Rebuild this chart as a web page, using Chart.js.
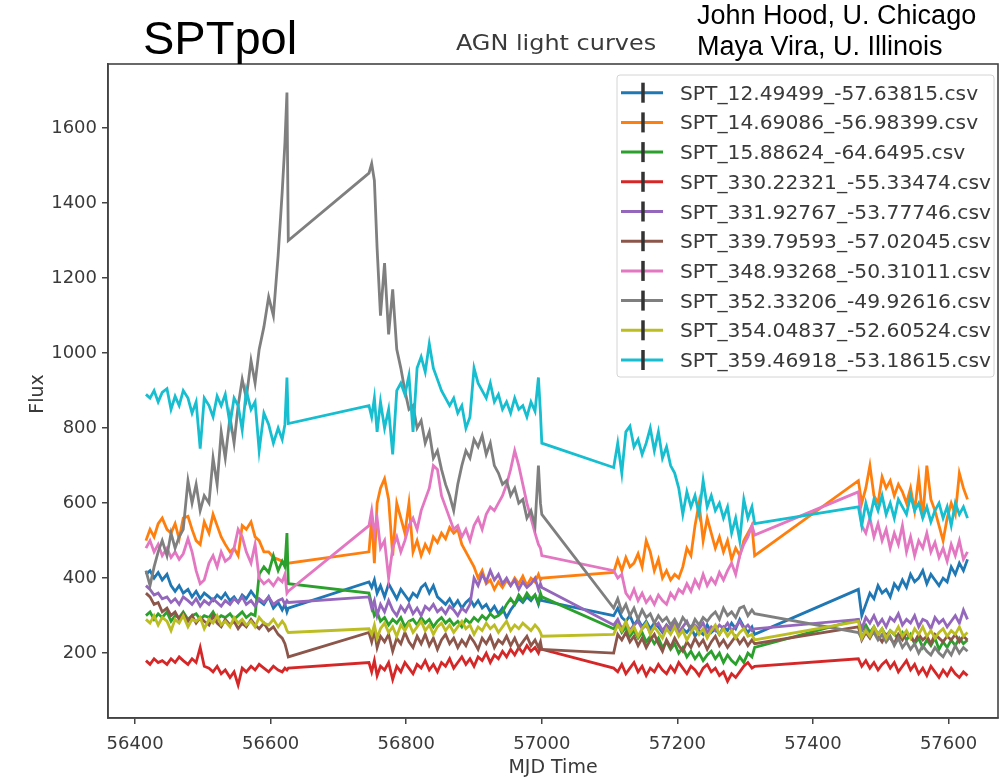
<!DOCTYPE html>
<html>

<head>
    <title>SPTpol AGN light curves</title>
    <meta charset="UTF-8">
    <script src="https://cdn.jsdelivr.net/npm/chart.js@4"></script>
    <style>
        body { margin: 0; background: #fff; }
        #wrap { position: relative; width: 1001px; height: 777px; }
        #lc { position: absolute; left: 0; top: 0; }
        .note { position: absolute; font-family: "Liberation Sans", Arial, sans-serif; color: #000; white-space: nowrap; line-height: 1; }
    </style>
</head>

<body>
    <div id="wrap">
        <canvas id="lc" width="1001" height="777"></canvas>
        <div class="note" style="left:143px; top:14px; font-size:47px;">SPTpol</div>
        <div class="note" style="left:697px; top:2px; font-size:27px;">John Hood, U. Chicago</div>
        <div class="note" style="left:697px; top:33px; font-size:27px;">Maya Vira, U. Illinois</div>
    </div>

    <script>
        // observation dates (MJD), four observing seasons
        const mjd = [
            56416, 56422, 56428, 56434, 56440, 56447, 56453, 56459, 56465, 56471, 56478, 56484, 56490, 56496, 56502, 56509, 56515, 56521, 56527, 56533, 56540, 56546, 56552, 56558, 56564, 56571, 56577, 56583, 56590, 56597, 56604, 56611, 56617, 56621, 56624, 56626,
            56745, 56749, 56753, 56757, 56762, 56768, 56774, 56780, 56786, 56792, 56798, 56804, 56810, 56816, 56822, 56828, 56834, 56840, 56846, 56852, 56858, 56864, 56870, 56876, 56882, 56888, 56894, 56900, 56906, 56912, 56918, 56924, 56930, 56936, 56942, 56948, 56954, 56960, 56966, 56972, 56978, 56984, 56990, 56995, 56998, 57000,
            57106, 57112, 57118, 57124, 57130, 57136, 57142, 57148, 57154, 57160, 57166, 57172, 57178, 57184, 57190, 57196, 57202, 57208, 57214, 57220, 57226, 57232, 57238, 57244, 57250, 57256, 57262, 57268, 57274, 57280, 57286, 57292, 57298, 57304, 57310, 57314,
            57467, 57472, 57478, 57484, 57490, 57496, 57502, 57508, 57514, 57520, 57526, 57532, 57538, 57544, 57550, 57556, 57562, 57568, 57574, 57580, 57586, 57592, 57598, 57604, 57610, 57616, 57622, 57628
        ];

        const flux12 = [
            410, 420, 400, 415, 395, 410, 380, 365, 380, 360, 370, 350, 365, 345, 360, 350, 340, 355, 345, 360, 340, 350, 335, 355, 345, 365, 350, 340, 330, 350, 320, 335, 315, 330, 310, 320,
            390, 375, 395, 360, 380, 350, 385, 365, 345, 370, 355, 340, 360, 350, 375, 385, 360, 380, 350, 340, 330, 345, 325, 340, 320, 335, 345, 325, 340, 320, 330, 310, 325, 305, 320, 295, 315, 330, 345, 335, 350, 340, 355, 330, 350, 340,
            300, 320, 295, 285, 300, 275, 290, 270, 285, 265, 280, 270, 255, 275, 260, 270, 250, 265, 255, 270, 245, 260, 250, 275, 255, 265, 250, 270, 260, 280, 265, 290, 270, 255, 270, 250,
            370, 300, 330, 360, 345, 380, 360, 370, 350, 385, 370, 395, 375, 410, 390, 400, 420, 385, 410, 395, 380, 400, 390, 430, 410, 440, 420, 450
        ];
        const flux14 = [
            500, 530, 510, 545, 560, 530, 520, 545, 505, 560, 565, 530, 500, 490, 550, 520, 570, 540, 510, 490, 470, 480, 460, 540, 530, 550, 510, 500, 470, 470, 455, 450, 445, 440, 445, 440,
            470, 560, 440, 600, 640, 665, 610, 460, 600, 560, 520, 600, 470, 500, 460, 490, 470, 510, 495, 520, 505, 535, 520, 530, 490, 470, 450, 430, 400, 420, 385, 395, 370, 390, 375, 395, 380, 400, 385, 405, 380, 400, 390, 410, 395, 400,
            415, 450, 420, 455, 430, 440, 465, 430, 500, 470, 420, 450, 400, 420, 395, 410, 400, 430, 480, 460, 540, 600, 500, 560, 520, 480, 510, 470, 500, 450, 480, 460, 500, 520, 540, 460,
            660, 600, 640, 700, 620, 600, 670, 640, 660, 620, 650, 630, 600, 640, 580, 670, 560, 700, 610, 580, 540, 500, 560, 600, 570, 680, 640, 610
        ];
        const flux15 = [
            300, 310, 290, 305, 295, 310, 285, 300, 295, 310, 290, 300, 305, 290, 300, 295, 310, 290, 300, 295, 305, 290, 300, 310, 295, 305, 300, 410, 430, 415, 460, 420, 445, 430, 520, 385,
            360, 330, 300, 310, 285, 295, 275, 290, 280, 295, 270, 285, 290, 275, 295, 280, 290, 270, 285, 295, 280, 290, 275, 285, 270, 290, 280, 295, 285, 300, 290, 305, 295, 300, 310, 330, 345, 330, 355, 340, 360, 345, 355, 335, 360, 350,
            265, 280, 255, 270, 245, 260, 240, 255, 230, 245, 225, 240, 215, 230, 210, 225, 200, 215, 190, 205, 185, 200, 180, 195, 205, 185, 200, 175, 195, 180, 170, 190, 175, 200, 190, 215,
            290, 260, 275, 255, 270, 250, 265, 245, 260, 250, 240, 255, 235, 250, 225, 240, 215, 235, 220, 240, 210, 230, 215, 235, 220, 240, 225, 235
        ];
        const flux330 = [
            180, 170, 185, 175, 180, 170, 185, 175, 190, 180, 170, 185, 175, 215, 165, 160, 150, 165, 145, 155, 135, 150, 115, 160, 150, 165, 155, 170, 160, 150, 165, 155, 150, 160, 155, 160,
            175, 150, 180, 140, 165, 155, 175, 130, 165, 150, 175, 160, 145, 170, 160, 180, 155, 170, 150, 175, 165, 185, 160, 175, 190, 170, 185, 165, 190, 180, 200, 175, 195, 185, 205, 190, 210, 195, 215, 200, 220, 205, 215, 200, 215, 210,
            160, 150, 170, 145, 160, 175, 150, 165, 140, 160, 150, 170, 155, 145, 165, 150, 175, 160, 145, 165, 155, 140, 160, 170, 150, 160, 140, 150, 125, 145, 135, 150, 165, 175, 160, 165,
            185, 165, 180, 160, 175, 155, 170, 180, 160, 175, 150, 165, 180, 155, 170, 145, 160, 140, 165, 150, 135, 155, 140, 160, 145, 135, 150, 140
        ];
        const flux331 = [
            380, 370, 355, 360, 345, 350, 335, 345, 330, 350, 340, 330, 345, 325, 340, 330, 345, 335, 325, 340, 330, 345, 335, 350, 330, 340, 325, 345, 335, 350, 330, 340, 345, 330, 340, 335,
            350, 320, 340, 300, 330, 310, 340, 315, 300, 325, 310, 330, 305, 320, 300, 325, 315, 330, 310, 320, 305, 325, 315, 300, 320, 310, 330, 400, 380, 410, 390, 420, 395, 410, 385, 400, 380, 395, 370, 390, 375, 385, 400, 370, 385, 375,
            275, 290, 265, 280, 260, 275, 285, 265, 275, 255, 270, 280, 260, 275, 265, 280, 255, 270, 285, 260, 275, 265, 280, 255, 270, 260, 275, 265, 280, 260, 270, 285, 265, 275, 260, 265,
            290, 265, 295, 280, 300, 275, 290, 270, 295, 285, 305, 275, 290, 280, 300, 270, 290, 285, 265, 295, 280, 290, 270, 285, 300, 280, 315, 290
        ];
        const flux339 = [
            360, 350, 330, 335, 310, 320, 300, 310, 290, 305, 285, 300, 280, 295, 285, 275, 300, 280, 270, 290, 275, 285, 265, 280, 270, 290, 275, 265, 280, 260, 270, 250, 240, 225, 205, 190,
            255, 230, 260, 215, 245, 230, 250, 205, 240, 225, 255, 230, 215, 245, 225, 250, 220, 240, 210, 235, 250, 225, 240, 215, 235, 220, 245, 230, 210, 240, 225, 245, 215, 235, 225, 245, 220, 240, 215, 230, 245, 220, 235, 215, 230, 210,
            200, 250, 235, 255, 230, 245, 220, 240, 215, 235, 250, 225, 205, 235, 215, 240, 220, 205, 230, 215, 240, 220, 235, 210, 230, 245, 220, 235, 215, 230, 245, 225, 240, 220, 235, 225,
            270, 235, 255, 240, 260, 245, 230, 250, 240, 225, 250, 235, 255, 240, 230, 250, 235, 245, 225, 250, 240, 230, 245, 235, 250, 230, 245, 235
        ];
        const flux348 = [
            480, 500, 470, 490, 460, 480, 455, 470, 450, 465, 505, 470, 420, 385, 395, 440, 460, 430, 470, 445, 455, 480, 530, 510, 470, 440, 490, 400, 385, 395, 380, 400, 390, 410, 360, 365,
            540, 580, 520, 560, 480, 500, 400, 480, 510, 470, 500, 540, 560, 530, 580, 610, 640, 700, 690, 620, 590, 560, 530, 540, 510, 530, 500, 540, 560, 530, 570, 590, 580, 600, 620, 650, 690, 740, 700, 650, 600, 560, 520, 490, 480, 460,
            420, 400, 410, 360, 345, 370, 340, 360, 335, 350, 330, 355, 340, 330, 360, 345, 370, 360, 385, 365, 395, 375, 410, 380, 400, 385, 415, 395, 420, 440, 410, 460, 490, 510, 540, 515,
            630, 540, 520, 560, 510, 545, 500, 530, 480, 520, 490, 540, 470, 510, 460, 500, 480, 520, 470, 495, 455, 480, 445, 490, 460, 500, 450, 470
        ];
        const flux352 = [
            420, 380, 430, 470, 500, 460, 520, 480, 510, 530, 660, 600, 650, 580, 620, 600, 720, 650, 790, 720, 830, 760, 860, 930, 880, 980, 920, 1010, 1070, 1150, 1100, 1260, 1430, 1560, 1695, 1300,
            1480, 1505, 1460, 1280, 1100, 1240, 1050, 1170, 1010, 960, 900, 850, 860, 800, 820, 760, 790, 720, 740, 690, 650, 620, 580, 650, 700, 740, 720, 770, 750, 780, 730, 760, 700, 680, 650, 660, 620, 640, 600, 610, 560, 580, 540, 700, 600, 570,
            320, 345, 310, 330, 300, 320, 290, 315, 295, 305, 280, 300, 285, 295, 275, 290, 270, 295, 280, 265, 290, 275, 295, 285, 300, 310, 290, 320, 300, 310, 295, 320, 325, 300, 315, 305,
            255, 240, 265, 245, 255, 235, 250, 230, 245, 220, 240, 215, 230, 210, 225, 200, 220, 205, 195, 215, 200, 190, 210, 195, 220, 200, 215, 205
        ];
        const flux354 = [
            290, 280, 300, 275, 295, 285, 260, 290, 280, 300, 270, 290, 285, 295, 265, 290, 280, 300, 275, 285, 270, 295, 280, 290, 275, 285, 270, 295, 280, 275, 290, 270, 285, 275, 260, 255,
            265, 250, 275, 240, 265, 280, 255, 270, 245, 275, 260, 280, 255, 270, 285, 260, 275, 250, 270, 280, 260, 275, 255, 270, 285, 265, 275, 250, 270, 260, 280, 265, 275, 255, 270, 285, 260, 275, 265, 280, 270, 260, 275, 265, 255, 245,
            250, 275, 260, 285, 255, 270, 245, 265, 280, 250, 270, 255, 240, 265, 250, 270, 245, 260, 235, 255, 270, 250, 265, 240, 260, 275, 250, 265, 245, 260, 240, 255, 265, 245, 250, 235,
            285, 240, 260, 245, 270, 250, 265, 240, 260, 250, 270, 245, 260, 240, 265, 250, 270, 245, 260, 240, 255, 265, 245, 260, 250, 270, 245, 255
        ];
        const flux359 = [
            890, 880, 900, 870, 895, 905, 850, 885, 860, 900, 880, 840, 870, 745, 880, 860, 830, 885, 860, 890, 810, 880, 860, 795, 900, 850, 870, 740, 840, 810, 760, 800, 770, 810, 935, 812,
            860, 830, 880, 790, 870, 800, 850, 730, 900, 920, 890, 940, 790, 960, 990, 950, 1025, 960, 930, 900, 880, 860, 880, 840, 860, 800, 830, 960, 920, 900, 880, 920, 870, 890, 850, 870, 840, 880, 850, 860, 830, 870, 845, 935, 840, 760,
            695, 760, 680, 790, 805, 750, 770, 730, 760, 800, 740, 790, 720, 750, 700, 680, 640, 570, 630, 590, 620, 570, 660, 590, 620, 580, 600, 560, 590, 520, 560, 500, 610, 560, 590, 545,
            590, 540, 600, 560, 610, 580, 620, 570, 600, 560, 610, 590, 570, 620, 580, 600, 560, 590, 550, 580, 600, 560, 590, 540, 600, 570, 590, 560
        ];

        const sources = [
            'SPT_12.49499_-57.63815.csv',
            'SPT_14.69086_-56.98399.csv',
            'SPT_15.88624_-64.6495.csv',
            'SPT_330.22321_-55.33474.csv',
            'SPT_331.92767_-53.77746.csv',
            'SPT_339.79593_-57.02045.csv',
            'SPT_348.93268_-50.31011.csv',
            'SPT_352.33206_-49.92616.csv',
            'SPT_354.04837_-52.60524.csv',
            'SPT_359.46918_-53.18615.csv'
        ];
        const colors = ['#1f77b4', '#ff7f0e', '#2ca02c', '#d62728', '#9467bd', '#8c564b', '#e377c2', '#7f7f7f', '#bcbd22', '#17becf'];

        const xTicks = [56400, 56600, 56800, 57000, 57200, 57400, 57600];
        const yTicks = [200, 400, 600, 800, 1000, 1200, 1400, 1600];

        const curves = [flux12, flux14, flux15, flux330, flux331, flux339, flux348, flux352, flux354, flux359];

        // last curve ends up on top, like the plotting order
        var datasets = curves.map(function (f, i) {
            return {
                label: sources[i],
                data: mjd.map(function (t, k) { return { x: t, y: f[k] }; }),
                borderColor: colors[i],
                borderWidth: 2.8,
                pointRadius: 0,
                tension: 0,
                fill: false,
                order: curves.length - i
            };
        });

        // the whole plot is a little soft
        const soften = {
            id: 'soften',
            beforeDraw(chart) { chart.ctx.filter = 'blur(0.6px)'; }
        };

        // box around the axes, title, axis labels and legend
        const decorations = {
            id: 'decorations',
            afterDraw(chart) {
                const ctx = chart.ctx;
                const a = chart.chartArea;
                ctx.save();

                ctx.strokeStyle = '#444';
                ctx.lineWidth = 1.6;
                ctx.strokeRect(a.left, a.top, a.right - a.left, a.bottom - a.top);

                ctx.fillStyle = '#3a3a3a';
                ctx.textAlign = 'center';
                ctx.textBaseline = 'alphabetic';

                ctx.save();
                ctx.translate(556, 50);
                ctx.scale(1.14, 1);
                ctx.font = '21px "DejaVu Sans"';
                ctx.fillText('AGN light curves', 0, 0);
                ctx.restore();

                ctx.font = '19px "DejaVu Sans"';
                ctx.fillText('MJD Time', (a.left + a.right) / 2, 773);

                ctx.save();
                ctx.translate(38, 394);
                ctx.rotate(-Math.PI / 2);
                ctx.textBaseline = 'middle';
                ctx.fillText('Flux', 0, 0);
                ctx.restore();

                // legend
                const lx = 617, ly = 75, lw = 377, lh = 302;
                ctx.fillStyle = 'rgba(255,255,255,0.85)';
                ctx.strokeStyle = '#d4d4d4';
                ctx.lineWidth = 1;
                ctx.beginPath();
                ctx.roundRect(lx, ly, lw, lh, 3);
                ctx.fill();
                ctx.stroke();

                ctx.textAlign = 'left';
                ctx.font = '19px "DejaVu Sans"';
                for (let i = 0; i < sources.length; i++) {
                    const cy = 92.7 + i * 29.7;
                    ctx.strokeStyle = colors[i];
                    ctx.lineWidth = 3;
                    ctx.beginPath();
                    ctx.moveTo(621, cy);
                    ctx.lineTo(663, cy);
                    ctx.stroke();

                    ctx.strokeStyle = '#333';
                    ctx.lineWidth = 3.5;
                    ctx.beginPath();
                    ctx.moveTo(643, cy - 10);
                    ctx.lineTo(643, cy + 10);
                    ctx.stroke();

                    ctx.save();
                    ctx.translate(680, cy + 7);
                    ctx.scale(1.065, 1);
                    ctx.fillStyle = '#3a3a3a';
                    ctx.fillText(sources[i], 0, 0);
                    ctx.restore();
                }

                ctx.restore();
            }
        };

        var ctx = document.getElementById('lc').getContext('2d');
        var chart = new Chart(ctx, {
            type: 'line',
            data: { datasets: datasets },
            options: {
                responsive: false,
                animation: false,
                events: [],
                layout: { padding: { top: 64, right: 3, left: 0, bottom: 0 } },
                plugins: {
                    legend: { display: false },
                    tooltip: { enabled: false }
                },
                scales: {
                    x: {
                        type: 'linear',
                        min: 56360,
                        max: 57673,
                        afterBuildTicks: function (s) { s.ticks = xTicks.map(function (v) { return { value: v }; }); },
                        afterFit: function (s) { s.height = 59; },
                        grid: { drawOnChartArea: false, drawTicks: true, tickLength: 6, color: '#444', lineWidth: 1.5 },
                        border: { display: true, color: '#444', width: 1.6 },
                        ticks: {
                            padding: 10,
                            maxRotation: 0,
                            color: '#3a3a3a',
                            font: { family: 'DejaVu Sans', size: 18 },
                            callback: function (v) { return String(v); }
                        }
                    },
                    y: {
                        type: 'linear',
                        min: 27,
                        max: 1771,
                        afterBuildTicks: function (s) { s.ticks = yTicks.map(function (v) { return { value: v }; }); },
                        afterFit: function (s) { s.width = 108; },
                        grid: { drawOnChartArea: false, drawTicks: true, tickLength: 6, color: '#444', lineWidth: 1.5 },
                        border: { display: true, color: '#444', width: 1.6 },
                        ticks: {
                            padding: 5,
                            color: '#3a3a3a',
                            font: { family: 'DejaVu Sans', size: 18 },
                            callback: function (v) { return String(v); }
                        }
                    }
                }
            },
            plugins: [soften, decorations]
        });
    </script>

</body>

</html>
